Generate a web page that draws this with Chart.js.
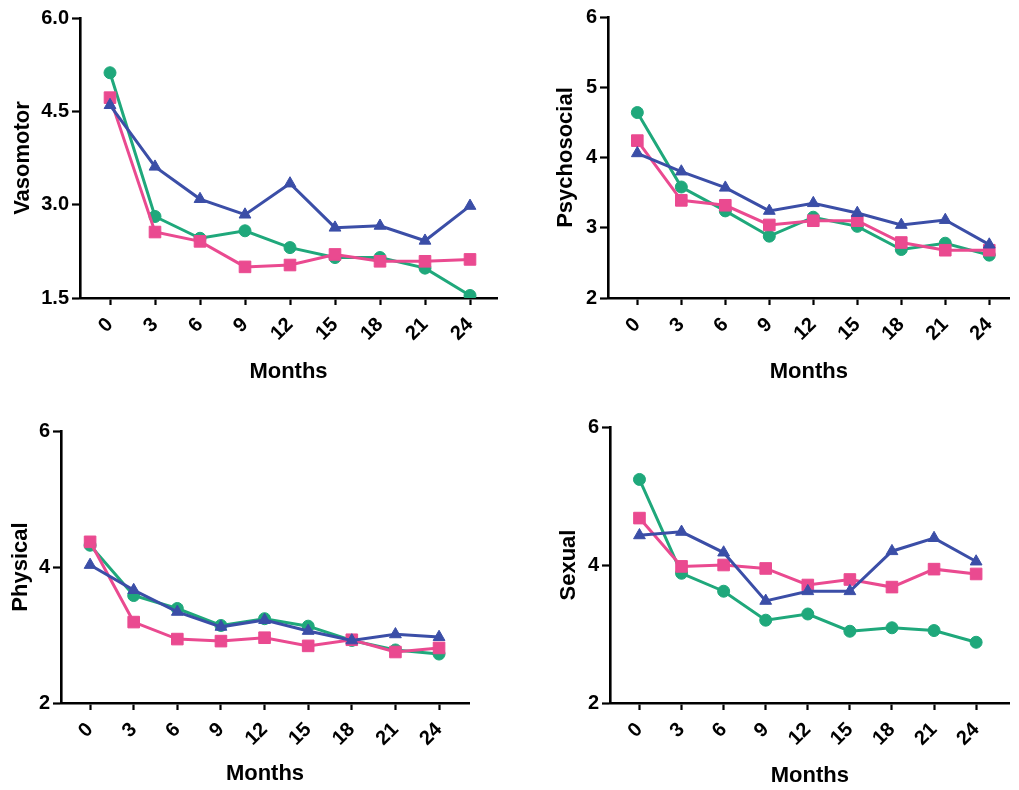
<!DOCTYPE html>
<html>
<head>
<meta charset="utf-8">
<script src="https://cdn.jsdelivr.net/npm/chart.js@4.4.1/dist/chart.umd.min.js"></script>
<style>
  html, body { margin: 0; padding: 0; background: #fff; }
  body { width: 1019px; height: 790px; position: relative; overflow: hidden; }
  canvas { position: absolute; }
</style>
</head>
<body>
<canvas id="c1" width="509" height="395" style="left:0px;top:0px"></canvas>
<canvas id="c2" width="509" height="395" style="left:510px;top:0px"></canvas>
<canvas id="c3" width="509" height="390" style="left:0px;top:400px"></canvas>
<canvas id="c4" width="509" height="390" style="left:510px;top:400px"></canvas>
<script>
// ---- Data ----
const months = [0, 3, 6, 9, 12, 15, 18, 21, 24];

const vasomotorGreen = [5.12, 2.81, 2.46, 2.58, 2.31, 2.15, 2.15, 1.98, 1.54];
const vasomotorPink  = [4.72, 2.56, 2.41, 2.00, 2.03, 2.20, 2.09, 2.09, 2.12];
const vasomotorBlue  = [4.60, 3.61, 3.09, 2.84, 3.34, 2.63, 2.66, 2.42, 2.98];

const psychosocialGreen = [4.64, 3.58, 3.24, 2.88, 3.15, 3.02, 2.69, 2.78, 2.61];
const psychosocialPink  = [4.24, 3.39, 3.32, 3.04, 3.10, 3.10, 2.79, 2.68, 2.68];
const psychosocialBlue  = [4.06, 3.80, 3.57, 3.24, 3.35, 3.21, 3.04, 3.11, 2.76];

const physicalGreen = [4.32, 3.58, 3.39, 3.14, 3.24, 3.13, 2.92, 2.78, 2.72];
const physicalPink  = [4.37, 3.19, 2.94, 2.91, 2.96, 2.84, 2.93, 2.75, 2.81];
const physicalBlue  = [4.03, 3.66, 3.34, 3.12, 3.22, 3.06, 2.92, 3.01, 2.97];

const sexualGreen = [5.24, 3.88, 3.62, 3.20, 3.29, 3.04, 3.09, 3.05, 2.88];
const sexualPink  = [4.68, 3.98, 4.00, 3.95, 3.71, 3.79, 3.68, 3.94, 3.87];
const sexualBlue  = [4.43, 4.48, 4.18, 3.48, 3.62, 3.62, 4.20, 4.39, 4.05];

const vasomotorTicks = [1.5, 3.0, 4.5, 6.0];
const psychosocialTicks = [2, 3, 4, 5, 6];
const physicalTicks = [2, 4, 6];
const sexualTicks = [2, 4, 6];

// ---- Styles ----
const GREEN = '#1fa87b';
const PINK = '#ea4a90';
const BLUE = '#3b4ea7';
const FONT = '"Liberation Sans", Arial, Helvetica, sans-serif';

function pts(vals) { return months.map((m, i) => ({ x: m, y: vals[i] })); }

function makeChart(id, cfg) {
  const canvas = document.getElementById(id);
  const cx = cfg.canvasLeft, cy = cfg.canvasTop;
  const cw = canvas.width, ch = canvas.height;
  const ds = (label, vals, color, style, radius) => ({
    label, data: pts(vals),
    borderColor: color, backgroundColor: color,
    pointBackgroundColor: color, pointBorderColor: color,
    borderWidth: 3, pointStyle: style, pointRadius: radius, pointBorderWidth: 1,
    pointHoverRadius: radius, tension: 0
  });
  new Chart(canvas, {
    type: 'line',
    data: {
      datasets: [
        ds('Blue', cfg.blue, BLUE, 'triangle', 6.8),
        ds('Pink', cfg.pink, PINK, 'rect', 8.2),
        ds('Green', cfg.green, GREEN, 'circle', 6)
      ]
    },
    options: {
      responsive: false,
      animation: false,
      events: [],
      layout: { padding: { top: cfg.areaTop - cy, right: cx + cw - cfg.areaRight, left: 0, bottom: 0 } },
      plugins: { legend: { display: false }, tooltip: { enabled: false } },
      scales: {
        x: {
          type: 'linear',
          min: cfg.xMin, max: cfg.xMax,
          afterBuildTicks: (s) => { s.ticks = months.map(v => ({ value: v })); },
          afterFit: (s) => { s.height = cy + ch - cfg.areaBottom; },
          ticks: {
            autoSkip: false, minRotation: 45, maxRotation: 45,
            color: '#000', padding: 8,
            font: { family: FONT, size: 20, weight: 'bold' },
            callback: (v) => String(v)
          },
          grid: { display: true, drawOnChartArea: false, drawTicks: true, tickLength: 7, tickWidth: 2.2, tickColor: '#000' },
          border: { display: true, color: '#000', width: 2.6 },
          title: {
            display: true, text: 'Months', color: '#000',
            font: { family: FONT, size: 22, weight: 'bold' },
            padding: { top: 0, bottom: cfg.xTitlePad }
          }
        },
        y: {
          type: 'linear',
          min: cfg.yTicks[0], max: cfg.yTicks[cfg.yTicks.length - 1],
          afterBuildTicks: (s) => { s.ticks = cfg.yTicks.map(v => ({ value: v })); },
          afterFit: (s) => { s.width = cfg.areaLeft - cx; },
          ticks: {
            color: '#000', padding: 3,
            font: { family: FONT, size: 20, weight: 'bold' },
            callback: (v) => cfg.decimals ? Number(v).toFixed(cfg.decimals) : String(v)
          },
          grid: { display: true, drawOnChartArea: false, drawTicks: true, tickLength: 8, tickWidth: 2.2, tickColor: '#000' },
          border: { display: true, color: '#000', width: 2.6 },
          title: {
            display: true, text: cfg.title, color: '#000',
            font: { family: FONT, size: 22, weight: 'bold' },
            padding: { top: cfg.yTitlePad, bottom: 0 }
          }
        }
      }
    }
  });
}

makeChart('c1', {
  canvasLeft: 0, canvasTop: 0,
  areaLeft: 80, areaTop: 18, areaRight: 497, areaBottom: 298,
  xMin: -2, xMax: 25.8, xTitlePad: 10, yTitlePad: 10,
  yTicks: vasomotorTicks, decimals: 1, title: 'Vasomotor',
  green: vasomotorGreen, pink: vasomotorPink, blue: vasomotorBlue
});
makeChart('c2', {
  canvasLeft: 510, canvasTop: 0,
  areaLeft: 608, areaTop: 17, areaRight: 1017, areaBottom: 298,
  xMin: -2, xMax: 25.4, xTitlePad: 10, yTitlePad: 43,
  yTicks: psychosocialTicks, decimals: 0, title: 'Psychosocial',
  green: psychosocialGreen, pink: psychosocialPink, blue: psychosocialBlue
});
makeChart('c3', {
  canvasLeft: 0, canvasTop: 400,
  areaLeft: 61, areaTop: 431, areaRight: 469, areaBottom: 703,
  xMin: -2, xMax: 26.06, xTitlePad: 3, yTitlePad: 8,
  yTicks: physicalTicks, decimals: 0, title: 'Physical',
  green: physicalGreen, pink: physicalPink, blue: physicalBlue
});
makeChart('c4', {
  canvasLeft: 510, canvasTop: 400,
  areaLeft: 610, areaTop: 427, areaRight: 1019, areaBottom: 703,
  xMin: -2.1, xMax: 26.4, xTitlePad: 1, yTitlePad: 46,
  yTicks: sexualTicks, decimals: 0, title: 'Sexual',
  green: sexualGreen, pink: sexualPink, blue: sexualBlue
});
</script>
</body>
</html>
